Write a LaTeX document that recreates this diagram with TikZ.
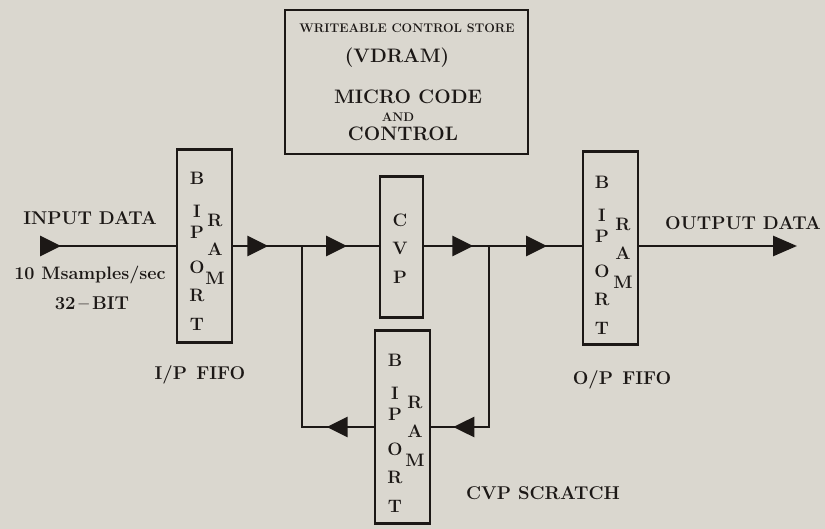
\documentclass[tikz,border=0pt]{standalone}
\usetikzlibrary{arrows.meta,decorations.markings}
\definecolor{paper}{RGB}{218,215,207}
\definecolor{ink}{RGB}{28,24,22}
\tikzset{
  fifo/.style={draw=ink, line width=2.6pt, minimum width=55pt, minimum height=193pt, inner sep=0pt},
  cvpbox/.style={draw=ink, line width=2.6pt, minimum width=43pt, minimum height=141pt, inner sep=0pt},
  csbox/.style={draw=ink, line width=2.6pt, minimum width=243pt, minimum height=144pt, inner sep=0pt},
  wire/.style={draw=ink, line width=2.8pt},
  midtip/.style={postaction={decorate}, decoration={markings,
      mark=at position #1 with {\arrow{Triangle[length=21pt,width=20pt]}}}},
  letter/.style={text=ink, font=\fontsize{18}{18}\selectfont\bfseries, inner sep=0pt},
  label/.style={text=ink, font=\fontsize{18.5}{18.5}\selectfont\bfseries, inner sep=0pt},
  smalllabel/.style={text=ink, font=\fontsize{18}{18}\selectfont\bfseries, inner sep=0pt},
  tinylabel/.style={text=ink, font=\fontsize{12.5}{12.5}\selectfont\bfseries, inner sep=0pt},
  cslabel/.style={text=ink, font=\fontsize{19.5}{19.5}\selectfont\bfseries, inner sep=0pt}
}
% letters of a BIPORT RAM box: left column x, right column x, y of the B, name prefix
\newcommand\biportram[4]{%
  \foreach \ch/\dy in {B/0,I/33,P/54,O/89,R/117,T/146}
    \node[letter] (#4l\dy) at (#1,#3+\dy) {\ch};
  \foreach \ch/\dy in {R/42,A/71,M/100}
    \node[letter] (#4r\dy) at (#2,#3+\dy) {\ch};
}
\begin{document}
\begin{tikzpicture}[x=1pt,y=-1pt]
\fill[paper] (0,0) rectangle (825,529);
% boxes
\node[csbox] (cs) at (406.5,82) {};
\node[fifo] (ipfifo) at (204.5,246) {};
\node[cvpbox] (cvp) at (401.5,247) {};
\node[fifo] (opfifo) at (610.5,248) {};
\node[fifo] (scratch) at (402.5,427) {};
% texts in the boxes
\node[tinylabel] (cs1) at (407,28) {WRITEABLE CONTROL STORE};
\node[cslabel] (cs2) at (397,58) {(VDRAM)};
\node[cslabel] (cs3) at (408,97) {MICRO CODE};
\node[tinylabel] (cs4) at (398,117) {AND};
\node[cslabel] (cs5) at (403,134) {CONTROL};
\biportram{197}{215}{178}{ip}
\biportram{602}{623}{182}{op}
\biportram{395}{415}{360}{sc}
\node[letter] (cvpc) at (400,220) {C};
\node[letter] (cvpv) at (400,248) {V};
\node[letter] (cvpp) at (400,277) {P};
% outside labels
\node[label] (indata) at (90,218) {INPUT DATA};
\node[smalllabel] (rate) at (90,275) {10 Msamples/sec};
\node[label] (width) at (92,303) {32\,--\,BIT};
\node[label] (iplabel) at (200,375) {I/P\enspace FIFO};
\node[label] (outdata) at (743,223) {OUTPUT DATA};
\node[label] (oplabel) at (622,380) {O/P\enspace FIFO};
\node[label] (sclabel) at (543,493) {CVP SCRATCH};
% connectors
\coordinate (in) at (40,246);
\coordinate (out) at (797,246);
\coordinate (j1) at (302,246);
\coordinate (j2) at (489,246);
\draw[wire, midtip=21pt] (in) -- (ipfifo.west |- in);
\draw[wire, midtip=35pt] (ipfifo.east |- in) -- (j1);
\draw[wire, midtip=45pt] (j1) -- (cvp.west |- j1);
\draw[wire, midtip=49pt] (cvp.east |- j2) -- (j2);
\draw[wire, midtip=58pt] (j2) -- (opfifo.west |- j2);
\draw[wire, -{Triangle[length=24pt,width=20pt]}] (opfifo.east |- out) -- (out);
\draw[wire, midtip=-22pt] (j2) |- (scratch.east);
\draw[wire, midtip=47pt] (scratch.west) -| (j1);
\end{tikzpicture}
\end{document}
